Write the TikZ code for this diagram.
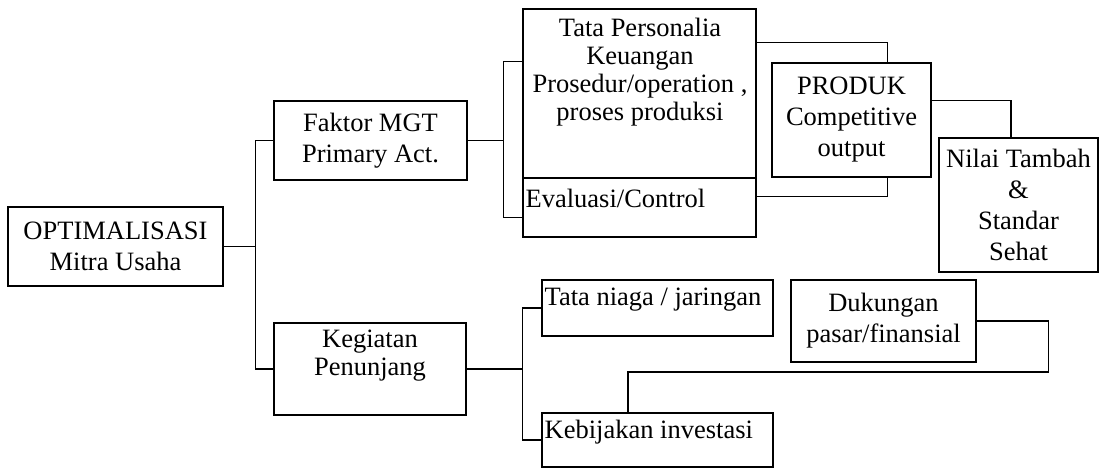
\documentclass[tikz,border=0pt]{standalone}
\usepackage{fontspec}
\setmainfont{Liberation Serif}

\begin{document}
\begin{tikzpicture}[x=1pt,y=-1pt,line width=1.3pt]
\tikzstyle{every node}+=[inner sep=0pt, font=\fontsize{26.5}{31}\selectfont]
\tikzstyle{box}=[draw, align=center]
\useasboundingbox (0,0) rectangle (1102,469);
\node [box, minimum width=215, minimum height=79] (opt) at (115.5,246.5) {OPTIMALISASI\\Mitra Usaha};
\node [box, minimum width=193, minimum height=79] (faktor) at (370.5,140.5) {Faktor MGT\\Primary Act.};
\node [box, minimum width=192, minimum height=92,
  label={[yshift=13, align=center, font=\fontsize{26.5}{28}\selectfont]center:Kegiatan\\Penunjang}] (keg) at (370,369) {};
\node [box, minimum width=233, minimum height=169] (tata) at (639.5,93.5) {};
\node [anchor=north, align=center, font=\fontsize{26.5}{28}\selectfont] (tatatxt) at (640,17) {Tata Personalia\\Keuangan\\Prosedur/operation ,\\proses produksi};
\node [box, minimum width=233, minimum height=59] (eval) at (639.5,207.5) {};
\node [anchor=west] (evaltxt) at (525,198) {Evaluasi/Control};
\node [box, minimum width=159, minimum height=114] (produk) at (851.5,120) {PRODUK\\Competitive\\output};
\node [box, minimum width=159, minimum height=134] (nilai) at (1018.5,205) {Nilai Tambah\\\&\\Standar\\Sehat};
\node [box, minimum width=231, minimum height=56] (niaga) at (657.5,308) {};
\node [anchor=west] (niagatxt) at (544,300) {Tata niaga / jaringan};
\node [box, minimum width=231, minimum height=54] (kebij) at (657.5,440) {};
\node [anchor=west] (kebijtxt) at (544,432) {Kebijakan investasi};
\node [box, minimum width=185, minimum height=82] (dukung) at (883.5,321) {Dukungan\\pasar/finansial};
% connectors
\draw (opt.east) -- ++(32,0) coordinate (s1);
\draw (faktor.west) -| (s1) |- (keg.west);
\draw (faktor.east) -- ++(36,0) coordinate (s2);
\draw ([yshift=-53]tata.north west) -| (s2) |- ([yshift=20]eval.south west);
\draw ([yshift=-34]tata.north east) -| ([xshift=-44]produk.north east);
\draw ([yshift=-19]eval.north east) -| ([xshift=-44]produk.south east);
\draw ([yshift=-38]produk.north east) -| ([xshift=-7.5]nilai.north);
\draw (keg.east) -- ++(56,0) coordinate (s3);
\draw (niaga.west) -| (s3) |- (kebij.west);
\draw (dukung.east) -- ++(72,0) -- ++(0,51) -| ([xshift=-29.5]kebij.north);
\end{tikzpicture}
\end{document}
